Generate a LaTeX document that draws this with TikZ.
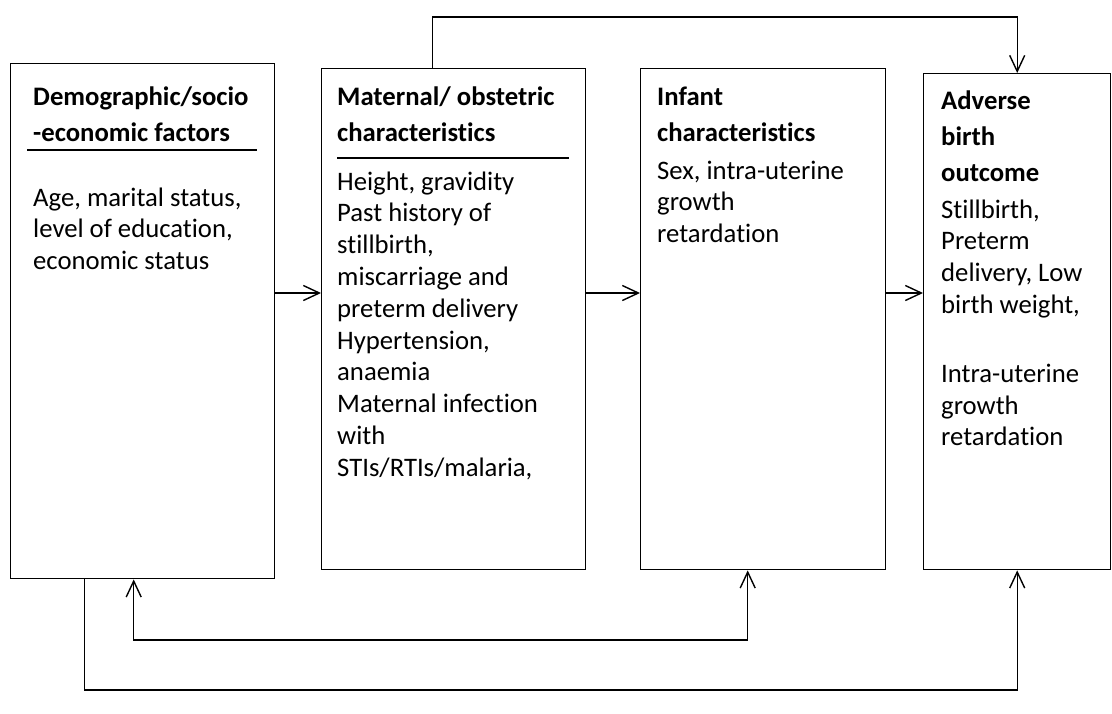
\documentclass[tikz,border=0pt]{standalone}
\usepackage{fontspec}
\setmainfont{Carlito}[Ligatures=NoCommon]
\usetikzlibrary{arrows.meta}
\tikzset{
  >={Straight Barb[length=16pt,width=15pt]},
  box/.style={draw, line width=1.4pt, inner sep=0pt, anchor=north west},
  head/.style={anchor=north west, inner sep=0pt, align=left, font=\fontsize{26.7}{36}\selectfont\bfseries},
  body/.style={anchor=north west, inner sep=0pt, align=left, font=\fontsize{26.7}{31.8}\selectfont},
  link/.style={line width=1.4pt, ->},
  rule/.style={line width=1.6pt},
}
\begin{document}
\begin{tikzpicture}[x=1pt, y=-1pt]
\useasboundingbox (0,0) rectangle (1112,713);

%boîtes

\node[box, minimum width=264pt, minimum height=515pt] (demo) at (10,63) {};
\node[box, minimum width=264pt, minimum height=501pt] (mat) at (321,68) {};
\node[box, minimum width=245pt, minimum height=501pt] (inf) at (640,68) {};
\node[box, minimum width=187pt, minimum height=496pt] (adv) at (923,73) {};

%textes

\node[head] (demohead) at (33,79.8) {\strut Demographic/socio\\-economic factors};
\draw[rule] (27,150) -- (257,150);
\node[body] (demotext) at (33,183.7) {\strut Age, marital status,\\level of education,\\economic status};

\node[head] (mathead) at (337,79.8) {\strut Maternal/ obstetric\\characteristics};
\draw[rule] (337,158) -- (569,158);
\node[body] (mattext) at (337,167.7) {\strut Height, gravidity\\Past history of\\stillbirth,\\miscarriage and\\preterm delivery\\Hypertension,\\anaemia\\Maternal infection\\with\\STIs/RTIs/malaria,};

\node[head] (infhead) at (657,79.8) {\strut Infant\\characteristics};
\node[body] (inftext) at (657,156.7) {\strut Sex, intra-uterine\\growth\\retardation};

\node[head] (advhead) at (941,83.8) {\strut Adverse\\birth\\outcome};
\node[body] (advtext) at (941,195.7) {\strut Stillbirth,\\Preterm\\delivery, Low\\birth weight,\\[37pt]Intra-uterine\\growth\\retardation};

%flèches

\coordinate (toprow) at (0,17);
\coordinate (midrow) at (0,293);
\coordinate (lowrow) at (0,640);
\coordinate (baserow) at (0,690);

\draw[link] (demo.east |- midrow) -- (mat.west |- midrow);
\draw[link] (mat.east |- midrow) -- (inf.west |- midrow);
\draw[link] (inf.east |- midrow) -- (adv.west |- midrow);
\draw[link] ([xshift=-21pt]mat.north) -- ([xshift=-21pt]mat.north |- toprow) -- (adv.north |- toprow) -- (adv.north);
\draw[link, <->] ([xshift=-9pt]demo.south) -- ([xshift=-9pt]demo.south |- lowrow) -- ([xshift=-15.5pt]inf.south |- lowrow) -- ([xshift=-15.5pt]inf.south);
\draw[link] ([xshift=-58pt]demo.south) -- ([xshift=-58pt]demo.south |- baserow) -- (adv.south |- baserow) -- (adv.south);
\end{tikzpicture}
\end{document}
